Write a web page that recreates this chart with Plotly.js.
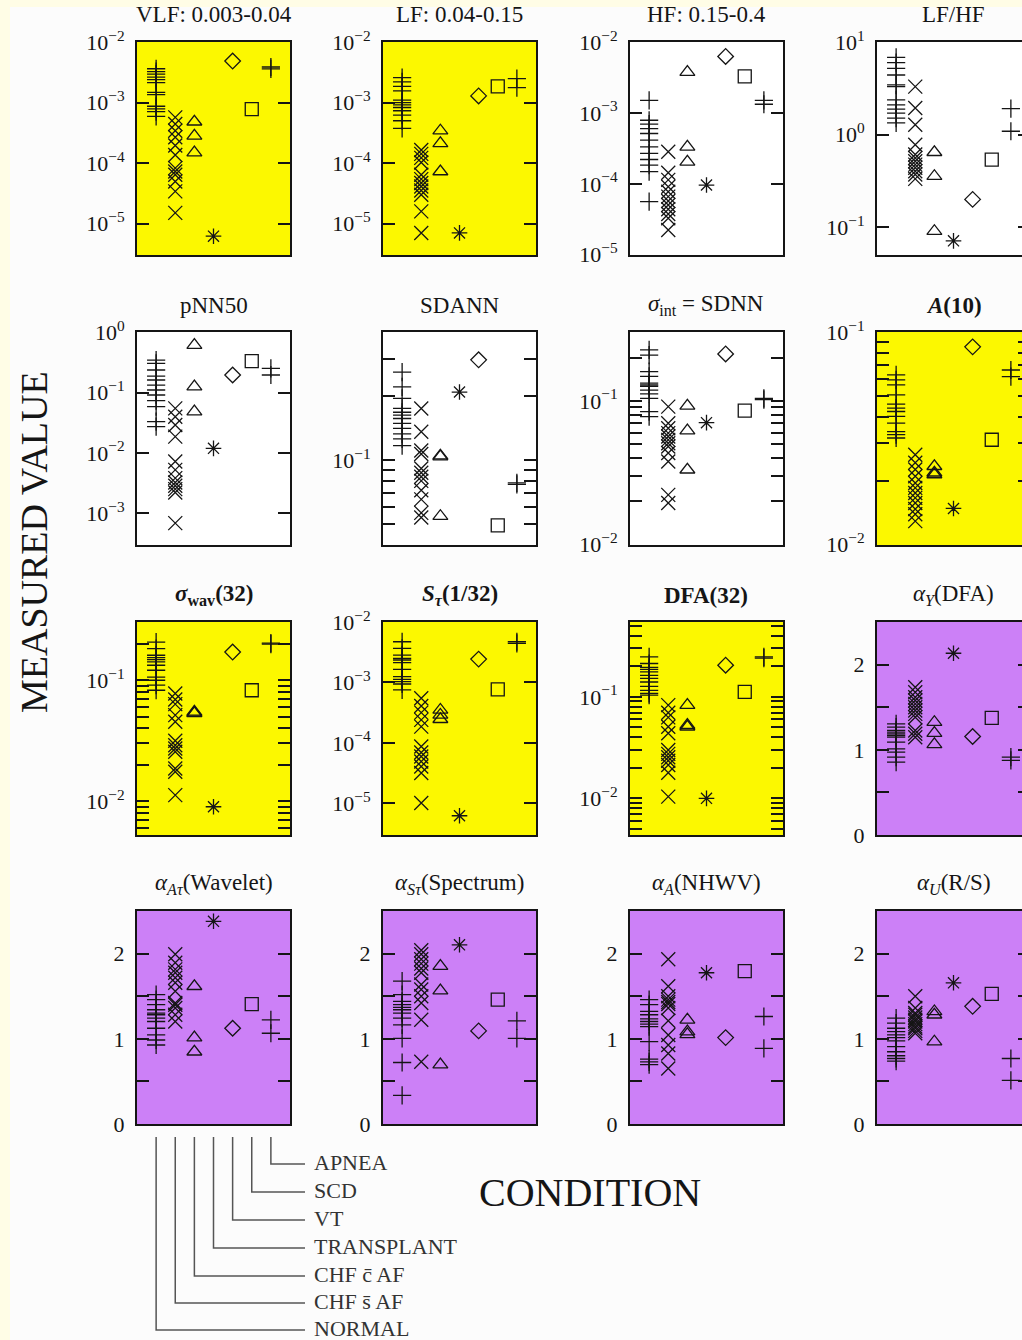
<!DOCTYPE html>
<html><head><meta charset="utf-8">
<script src="https://cdn.plot.ly/plotly-3.0.1.min.js"></script>
<style>
html,body{margin:0;padding:0;background:#fffde6;overflow:hidden;width:1022px;height:1340px;}
#inner{position:absolute;left:10px;top:7px;width:1030px;height:1333px;background:#fcfcfc;}
#chart{position:absolute;left:0;top:0;width:1040px;height:1340px;}
</style></head><body><div id="inner"></div><div id="chart"></div>
<script>
// ---------- categories ----------
const conditions = ['NORMAL','CHF s\u0304 AF','CHF c\u0304 AF','TRANSPLANT','VT','SCD','APNEA'];

// ---------- panel titles ----------
const titles = [
  'VLF: 0.003-0.04','LF: 0.04-0.15','HF: 0.15-0.4','LF/HF',
  'pNN50','SDANN','<i>σ</i><sub>int</sub> = SDNN','<b><i>A</i>(10)</b>',
  '<b><i>σ</i><sub>wav</sub>(32)</b>','<b><i>S</i><sub><i>τ</i></sub>(1/32)</b>','<b>DFA(32)</b>','<i>α</i><sub><i>Y</i></sub>(DFA)',
  '<i>α</i><sub><i>Aτ</i></sub>(Wavelet)','<i>α</i><sub><i>Sτ</i></sub>(Spectrum)','<i>α</i><sub><i>A</i></sub>(NHWV)','<i>α</i><sub><i>U</i></sub>(R/S)'
];

// ---------- data: one array per panel, one sub-array per condition (order of `conditions`) ----------
const vlf = [
  [0.00363,0.00324,0.00295,0.00263,0.00240,0.00214,0.00148,0.00135,0.00087,0.00079,0.00071,0.00059],
  [0.000569,0.000442,0.000343,0.000267,0.000195,0.000136,8.24e-5,7.26e-5,6.40e-5,4.97e-5,3.40e-5,1.50e-5],
  [0.000482,0.000281,0.000149],
  [6.18e-6],[0.00486],[0.00078],[0.00388,0.00360]
];
const lf = [
  [0.00259,0.00220,0.00186,0.00156,0.00110,0.00100,0.000918,0.000830,0.000733,0.000621,0.000501,0.000375],
  [0.000165,0.000142,0.000122,0.000102,6.40e-5,5.43e-5,4.67e-5,4.11e-5,3.53e-5,3.00e-5,1.59e-5,7.0e-6],
  [0.000343,0.000212,7.26e-5],
  [7.0e-6],[0.00129],[0.00186],[0.00249,0.00177]
];
const hf = [
  [0.00151,0.000791,0.000695,0.000604,0.000514,0.000414,0.000333,0.000269,0.000221,0.000184,0.000149,5.62e-5],
  [0.000284,0.000144,0.000114,9.14e-5,7.76e-5,6.61e-5,5.74e-5,5.05e-5,4.39e-5,3.77e-5,3.27e-5,2.24e-5],
  [0.00378,0.000333,0.000205],
  [9.64e-5],[0.00628],[0.00329],[0.00151,0.00133]
];
const lfhf = [
  [6.84,6.0,5.21,4.42,3.45,3.31,2.38,2.10,1.89,1.71,1.51,1.34],
  [3.31,1.94,1.28,0.780,0.610,0.561,0.516,0.475,0.439,0.403,0.372,0.333],
  [0.646,0.356,0.0906],
  [0.0713],[0.200],[0.538],[1.91,1.09]
];
const pnn50 = [
  [0.344,0.303,0.236,0.187,0.161,0.133,0.110,0.091,0.0733,0.0583,0.0330,0.0272],
  [0.0547,0.0398,0.0290,0.0186,0.00719,0.00524,0.00382,0.00323,0.00285,0.00251,0.00221,0.000687],
  [0.610,0.125,0.0482],
  [0.0119],[0.195],[0.332],[0.251,0.195]
];
const sdann = [
  [0.259,0.221,0.195,0.175,0.168,0.163,0.157,0.149,0.141,0.133,0.126,0.117],
  [0.175,0.136,0.111,0.107,0.0914,0.0873,0.0836,0.0800,0.0723,0.0655,0.0566,0.0538],
  [0.105,0.104,0.0546],
  [0.209],[0.296],[0.0495],[0.0783,0.0771]
];
const sdnn = [
  [0.226,0.208,0.160,0.148,0.133,0.129,0.126,0.119,0.112,0.104,0.0843,0.0778],
  [0.0912,0.0700,0.0646,0.0597,0.0565,0.0536,0.0508,0.0482,0.0434,0.0379,0.0222,0.0195],
  [0.0923,0.0622,0.0332],
  [0.0706],[0.212],[0.0857],[0.104,0.102]
];
const a10 = [
  [0.0631,0.0597,0.0566,0.0508,0.0459,0.0440,0.0424,0.0402,0.0374,0.0341,0.0330,0.0318],
  [0.0265,0.0243,0.0226,0.0210,0.0195,0.0185,0.0175,0.0166,0.0157,0.0147,0.0139,0.0129],
  [0.0234,0.0218,0.0214],
  [0.0148],[0.0855],[0.0312],[0.0665,0.0619]
];
const sigwav = [
  [0.207,0.183,0.161,0.154,0.148,0.142,0.133,0.121,0.106,0.100,0.0910,0.0826],
  [0.0776,0.0692,0.0634,0.0514,0.0453,0.0316,0.0290,0.0272,0.0256,0.0186,0.0175,0.0112],
  [0.0547,0.0537,0.0531],
  [0.00897],[0.171],[0.0826],[0.203,0.199]
];
const stau = [
  [0.00473,0.00367,0.00285,0.00251,0.00236,0.00213,0.00165,0.00125,0.00113,0.00103,0.000944,0.000752],
  [0.000547,0.000409,0.000317,0.000240,0.000186,8.69e-5,6.92e-5,5.94e-5,4.91e-5,4.06e-5,3.16e-5,1.01e-5],
  [0.000351,0.000290,0.000246],
  [6.21e-6],[0.00244],[0.000771],[0.00473,0.00444]
];
const dfa32 = [
  [0.247,0.213,0.195,0.186,0.176,0.163,0.152,0.140,0.127,0.116,0.108,0.104],
  [0.0828,0.0697,0.0627,0.0507,0.0437,0.0299,0.0274,0.0254,0.0235,0.0213,0.0179,0.0104],
  [0.0828,0.0527,0.0507],
  [0.0100],[0.205],[0.112],[0.247,0.240]
];
const alphaY = [
  [1.305,1.266,1.227,1.207,1.188,1.168,1.148,1.090,1.012,0.973,0.914,0.855],
  [1.734,1.676,1.617,1.578,1.539,1.500,1.461,1.422,1.383,1.227,1.188,1.148],
  [1.324,1.195,1.063],
  [2.133],[1.156],[1.375],[0.914,0.875]
];
const alphaAtau = [
  [1.519,1.460,1.400,1.341,1.302,1.282,1.243,1.203,1.124,1.045,0.986,0.927],
  [1.992,1.893,1.815,1.775,1.716,1.657,1.558,1.420,1.400,1.361,1.282,1.203],
  [1.617,1.014,0.848],
  [2.379],[1.124],[1.408],[1.223,1.065]
];
const alphaStau = [
  [1.677,1.519,1.440,1.400,1.369,1.341,1.302,1.243,1.164,1.006,0.722,0.335],
  [2.039,1.992,1.933,1.882,1.826,1.775,1.637,1.578,1.499,1.420,1.223,0.730],
  [1.854,1.566,0.698],
  [2.103],[1.093],[1.460],[1.211,1.006]
];
const alphaA = [
  [1.460,1.400,1.321,1.282,1.235,1.203,1.172,1.144,0.967,0.761,0.730,0.698],
  [1.933,1.617,1.499,1.460,1.432,1.408,1.361,1.211,1.045,0.927,0.828,0.651],
  [1.223,1.085,1.053],
  [1.775],[1.014],[1.795],[1.262,0.888]
];
const alphaU = [
  [1.243,1.184,1.124,1.085,1.045,1.014,0.975,0.907,0.848,0.801,0.769,0.738],
  [1.499,1.361,1.302,1.282,1.250,1.223,1.203,1.172,1.144,1.124,1.093,1.065],
  [1.321,1.282,0.966],
  [1.657],[1.381],[1.527],[0.769,0.513]
];

// ---------- tick values (labelled major ticks, unlabelled minor ticks) ----------
const decTicks = [1e-2,1e-3,1e-4,1e-5];
const lfhfTicks = [10,1,0.1];
const pnnTicks = [1,0.1,0.01,0.001];
const pointOneTicks = [0.01,0.1];
const sdannMinor = [0.04,0.05,0.06,0.07,0.08,0.09,0.2,0.3];
const sdnnMinor = [0.02,0.03,0.04,0.05,0.06,0.07,0.08,0.09,0.2,0.3];
const a10Minor = [0.02,0.03,0.04,0.05,0.06,0.07,0.08,0.09];
const sigwavMinor = [0.006,0.007,0.008,0.009,0.02,0.03,0.04,0.05,0.06,0.07,0.08,0.09,0.2,0.3];
const dfaMinor = [0.005,0.006,0.007,0.008,0.009,0.02,0.03,0.04,0.05,0.06,0.07,0.08,0.09,0.2,0.3,0.4,0.5];
const linTicks = [0,1,2];
const linMinor = [0.5,1.5,2.5];

// ---------- styling / layout config ----------
const YEL = '#fcf800', PUR = '#cc80f7', WHT = '#ffffff';
const panelData = [vlf,lf,hf,lfhf,pnn50,sdann,sdnn,a10,sigwav,stau,dfa32,alphaY,alphaAtau,alphaStau,alphaA,alphaU];
const cfg = [
  {bg:YEL,type:'log',range:[-5.52,-1.998],ticks:decTicks,minor:[]},
  {bg:YEL,type:'log',range:[-5.52,-1.998],ticks:decTicks,minor:[]},
  {bg:WHT,type:'log',range:[-5.003,-1.998],ticks:decTicks,minor:[]},
  {bg:WHT,type:'log',range:[-1.3,1.002],ticks:lfhfTicks,minor:[]},
  {bg:WHT,type:'log',range:[-3.525,0.002],ticks:pnnTicks,minor:[]},
  {bg:WHT,type:'log',range:[-1.398,-0.398],ticks:[0.1],minor:sdannMinor},
  {bg:WHT,type:'log',range:[-2.002,-0.521],ticks:pointOneTicks,minor:sdnnMinor},
  {bg:YEL,type:'log',range:[-2.002,-0.998],ticks:pointOneTicks,minor:a10Minor},
  {bg:YEL,type:'log',range:[-2.281,-0.518],ticks:pointOneTicks,minor:sigwavMinor},
  {bg:YEL,type:'log',range:[-5.526,-1.998],ticks:decTicks,minor:[]},
  {bg:YEL,type:'log',range:[-2.361,-0.263],ticks:pointOneTicks,minor:dfaMinor},
  {bg:PUR,type:'linear',range:[0,2.5],ticks:linTicks,minor:linMinor},
  {bg:PUR,type:'linear',range:[0,2.5],ticks:linTicks,minor:linMinor},
  {bg:PUR,type:'linear',range:[0,2.5],ticks:linTicks,minor:linMinor},
  {bg:PUR,type:'linear',range:[0,2.5],ticks:linTicks,minor:linMinor},
  {bg:PUR,type:'linear',range:[0,2.5],ticks:linTicks,minor:linMinor}
];
const symbols = ['cross-thin-open','x-thin-open','triangle-up-open','asterisk-open','diamond-open','square-open','cross-thin-open'];
const symSizes = [13,14,13,13,12,13,13];

const W = 1040, H = 1340;
const px = x => x / W;
const py = y => 1 - y / H;
const colLeft = [137,383,630,877], rowTop = [42,332,622,911];
const PW = 153, PH = 213;
const FONT = 'Liberation Serif, Times New Roman, serif';
const INK = '#151515';

function expLabel(v){
  const e = Math.round(Math.log10(v));
  return '10<sup>' + (e < 0 ? '\u2212' + (-e) : String(e)) + '</sup>';
}

const traces = [];
const layout = {
  width: W, height: H, margin:{l:0,r:0,t:0,b:0},
  paper_bgcolor:'rgba(0,0,0,0)', showlegend:false,
  font:{family:FONT,color:INK,size:19},
  annotations:[], shapes:[]
};

panelData.forEach((pd, p) => {
  const c = cfg[p];
  const id = p === 0 ? '' : String(p+1);
  const col = p % 4, row = Math.floor(p / 4);
  const L = colLeft[col], T = rowTop[row];
  const xd = [px(L), Math.min(1, px(L+PW))];
  const yd = [py(T+PH), py(T)];
  layout['xaxis'+id] = {
    domain: xd, range:[0,8], anchor:'y'+id, showticklabels:false, ticks:'',
    showgrid:false, zeroline:false, showline:true, mirror:true, linecolor:INK, linewidth:2, fixedrange:true
  };
  layout['yaxis'+id] = {
    domain: yd, type:c.type, range:c.range, anchor:'x'+id,
    tickmode:'array', tickvals:c.ticks,
    ticktext:c.ticks.map(v => c.type === 'log' ? expLabel(v) : String(v)),
    ticks:'inside', ticklen:12, tickwidth:2, tickcolor:INK,
    minor:{tickmode:'array', tickvals:c.minor, ticks:'inside', ticklen:12, tickwidth:2, tickcolor:INK, showgrid:false},
    showline:true, mirror:'allticks', linecolor:INK, linewidth:2,
    showgrid:false, zeroline:false, fixedrange:true,
    tickfont:{family:FONT,size:22,color:INK}, ticklabelstandoff:6
  };
  layout.shapes.push({type:'rect', xref:'x'+id+' domain', yref:'y'+id+' domain', x0:0,x1:1,y0:0,y1:1,
    fillcolor:c.bg, line:{width:0}, layer:'below'});
  pd.forEach((vals, k) => {
    traces.push({
      type:'scatter', mode:'markers', xaxis:'x'+id, yaxis:'y'+id,
      x: vals.map(() => k+1), y: vals, name: conditions[k], hoverinfo:'y+name',
      marker:{symbol:symbols[k], size:symSizes[k], color:INK, line:{width:1.3, color:INK}}
    });
  });
  layout.annotations.push({
    xref:'paper', yref:'paper', x:(px(L)+px(L+PW))/2, y:py(T-27), xanchor:'center', yanchor:'middle',
    text:titles[p], showarrow:false, font:{family:FONT,size:23,color:INK}
  });
});

// ---------- condition key under the first column ----------
const keyLevels = [1330,1303,1276,1248,1220,1192,1164];
const keyTop = 1137, keyLineEnd = 305, keyTextX = 312;
const ax13 = layout.xaxis13;
conditions.forEach((name, k) => {
  const xk = ax13.domain[0] + ((k+1) - ax13.range[0]) / (ax13.range[1] - ax13.range[0]) * (ax13.domain[1] - ax13.domain[0]);
  const yl = py(keyLevels[k]);
  layout.shapes.push({type:'path', xref:'paper', yref:'paper',
    path:'M '+xk+' '+py(keyTop)+' L '+xk+' '+yl+' L '+px(keyLineEnd)+' '+yl,
    line:{color:'#555555', width:1.5}});
  layout.annotations.push({xref:'paper', yref:'paper', x:px(keyTextX), y:py(keyLevels[k] - 2), xanchor:'left', yanchor:'middle',
    text:name, showarrow:false, font:{family:FONT,size:22,color:'#333333'}});
});

layout.annotations.push({xref:'paper', yref:'paper', x:px(590), y:py(1192), xanchor:'center', yanchor:'middle',
  text:'CONDITION', showarrow:false, font:{family:FONT,size:40,color:INK}});
layout.annotations.push({xref:'paper', yref:'paper', x:px(34), y:py(542), xanchor:'center', yanchor:'middle',
  text:'MEASURED VALUE', textangle:-90, showarrow:false, font:{family:FONT,size:38,color:INK}});

Plotly.newPlot('chart', traces, layout, {staticPlot:true, displayModeBar:false});
</script></body></html>
